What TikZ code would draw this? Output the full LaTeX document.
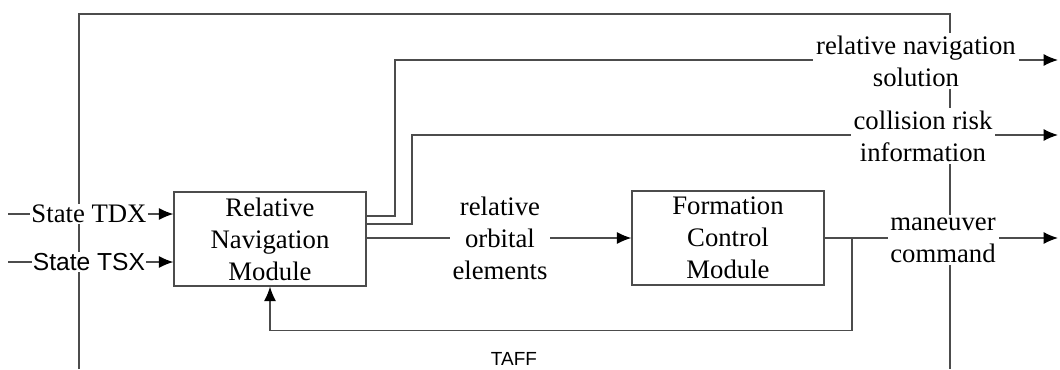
\documentclass[tikz,border=0pt]{standalone}
\usepackage{fontspec}
\setmainfont{Liberation Serif}
\newfontfamily\arialfont{Liberation Sans}
\usepackage{tikz}
\usetikzlibrary{arrows.meta}
\usetikzlibrary{positioning}

\begin{document}
\begin{tikzpicture}[
		x=0.025cm,
		y=-0.025cm,
		line width=0.9pt,
		font=\fontsize{19}{22.7}\selectfont,
		module/.style={draw=black!70, fill=white, minimum width=4.8cm, minimum height=2.35cm, inner sep=1pt, align=center},
		flow/.style={draw=black!70, -{Latex[length=3.6mm,width=3mm,color=black]}},
		wire/.style={draw=black!70},
		lab/.style={fill=white, inner sep=2pt, align=center}
	]
		\useasboundingbox (0,0) rectangle (1060,369);
		% outer frame
		\draw[wire] (79,369) -- (79,14) -- (950,14) -- (950,369);
		% modules
		\node[module] (rnm) at (270,239) {Relative\\Navigation\\Module};
		\node[module] (fcm) at (728,238) {Formation\\Control\\Module};
		% inputs
		\coordinate (tdx) at (8,214);
		\coordinate (tsx) at (8,262);
		\draw[flow] (tdx) -- (rnm.west |- tdx);
		\draw[flow] (tsx) -- (rnm.west |- tsx);
		\node[lab, inner sep=1pt] (tdxlab) at (89,214) {State TDX};
		\node[lab, inner sep=1pt, font=\arialfont\fontsize{17.5}{21}\selectfont] (tsxlab) at (89,262) {State TSX};
		% outputs
		\coordinate (sol) at (1058,60);
		\coordinate (risk) at (1058,135);
		\coordinate (cmd) at (1058,238);
		\draw[flow] ([yshift=.575cm]rnm.east) -| (395,60) -- (sol);
		\draw[flow] ([yshift=.375cm]rnm.east) -| (412,135) -- (risk);
		\draw[flow] (rnm.east |- fcm.west) -- (fcm.west);
		\draw[flow] (fcm.east) -- (cmd);
		% feedback
		\coordinate (fb) at (852,238);
		\draw[flow] (fb) |- ([yshift=-1.1cm]rnm.south) -- (rnm.south);
		% labels
		\node[lab] (orblab) at (500,238) {relative\\orbital\\elements};
		\node[lab] (sollab) at (916,61) {relative navigation\\solution};
		\node[lab] (risklab) at (923,136) {collision risk\\information};
		\node[lab] (cmdlab) at (943,240) {maneuver\\command};
		\node[font=\arialfont\fontsize{13.5}{16}\selectfont] (taff) at (514,359) {TAFF};
	\end{tikzpicture}
\end{document}
